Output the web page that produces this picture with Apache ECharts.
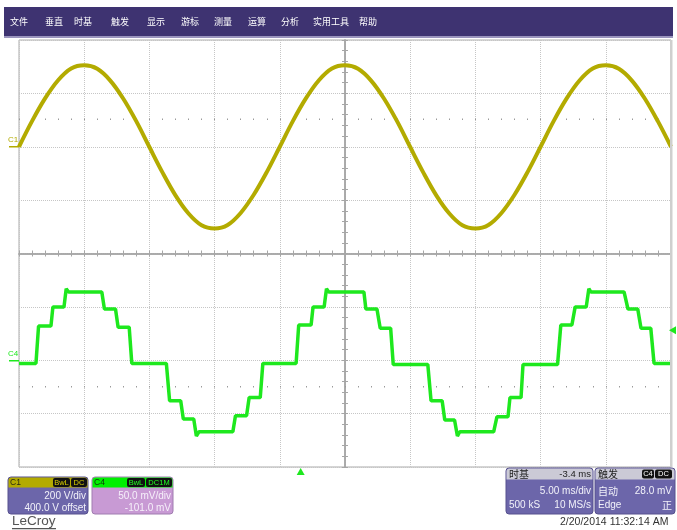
<!DOCTYPE html>
<html><head><meta charset="utf-8">
<script src="https://cdn.jsdelivr.net/npm/echarts/dist/echarts.min.js"></script>
<style>html,body{margin:0;padding:0;background:#fff;}#c{width:677px;height:530px;}</style>
</head><body><div id="c"></div>
<script>
// ---------- data ----------
const menuItems = ['文件','垂直','时基','触发','显示','游标','测量','运算','分析','实用工具','帮助'];
// C1 trace (volts) sampled every 1 ms
const c1Time = [0,1,2,3,4,5,6,7,8,9,10,11,12,13,14,15,16,17,18,19,20,21,22,23,24,25,26,27,28,29,30,31,32,33,34,35,36,37,38,39,40,41,42,43,44,45,46,47,48,49,50];
const c1Volt = [0,96,181,249,293,305,292,248,180,95,-1,-96,-182,-250,-294,-306,-293,-248,-180,-95,0,96,181,249,293,305,292,248,180,95,-1,-96,-182,-250,-294,-306,-293,-248,-180,-95,0,96,181,249,293,305,292,248,180,95,0];
// C4 trace (mV), step corners
const c4Time = [0,1.3,1.5,2.45,2.6,3.45,3.62,3.8,6.35,6.55,7.4,7.6,8.45,8.65,11.3,11.55,12.4,12.6,13.4,13.6,13.8,16.4,16.6,17.45,17.65,18.5,18.7,
  21.25,21.45,22.4,22.55,23.4,23.58,23.75,26.45,26.6,27.45,27.7,28.5,28.7,31.35,31.6,32.45,32.65,33.4,33.62,33.8,36.4,36.65,37.5,37.65,38.5,38.65,41.3,41.55,42.4,42.65,43.5,43.7,43.85,46.4,46.7,47.45,47.7,48.45,48.7,50];
const c4MilliVolt = [-3,-3,32,32,50,50,67,64,64,48,48,31,31,-3,-3,-38,-38,-55,-55,-71,-67,-67,-52,-52,-35,-35,-3,
  -3,33,33,50,50,67,64,64,48,48,30,30,-4,-4,-38,-38,-56,-56,-71,-67,-67,-53,-53,-35,-35,-4,-4,33,33,50,50,67,64,64,48,48,30,30,-3,-3];
const timeRange = [0, 50];      // ms, 5 ms/div
const c1Range = [-1200, 400];   // V, 200 V/div
const c4Range = [-100, 300];    // mV, 50 mV/div
const triggerLevel = 28;        // mV
const triggerTime = 21.6;       // ms
const c1Info = ['200 V/div', '400.0 V offset'];
const c4Info = ['50.0 mV/div', '-101.0 mV'];
const tbInfo = {head:'-3.4 ms', perDiv:'5.00 ms/div', samples:'500 kS', rate:'10 MS/s'};
const trigInfo = {mode:'自动', level:'28.0 mV', type:'Edge', slope:'正'};
const dateText = '2/20/2014 11:32:14 AM';

// ---------- layout / style ----------
const menuX = [10,45,74,111,147,181,214,248,281,313,359];
const C1COL = '#b3ab00', C4COL = '#1ee81e';
const FONT = 'Liberation Sans, Arial, sans-serif';
const CJK = 'Noto Sans CJK SC, sans-serif';

const chart = echarts.init(document.getElementById('c'));

function hiddenAxis(extra){
  return Object.assign({type:'value', axisLine:{show:false,onZero:false}, axisTick:{show:false}, axisLabel:{show:false}, splitLine:{show:false}}, extra);
}
function centerX(inside){
  return hiddenAxis({min:timeRange[0], max:timeRange[1], interval:5, position:'bottom', offset:-213.5,
    axisLine:{show:true,onZero:false,lineStyle:{color:'#a6a6a6',width:1.5}},
    axisTick:{show:true,inside:inside,length:3,lineStyle:{color:'#a6a6a6'}},
    minorTick:{show:true,splitNumber:5,length:3,lineStyle:{color:'#a6a6a6'}}});
}
function dotsX(off){
  return hiddenAxis({min:timeRange[0], max:timeRange[1], interval:5, position:'bottom', offset:off,
    axisTick:{show:true,inside:true,length:1.5,lineStyle:{color:'#9a9a9a'}},
    minorTick:{show:true,splitNumber:5,length:1.5,lineStyle:{color:'#9a9a9a'}}});
}
function centerY(inside){
  return hiddenAxis({min:-4, max:4, interval:1, position:'left', offset:-326,
    axisLine:{show:true,onZero:false,lineStyle:{color:'#a6a6a6',width:1.5}},
    axisTick:{show:true,inside:inside,length:3,lineStyle:{color:'#a6a6a6'}},
    minorTick:{show:true,splitNumber:5,length:3,lineStyle:{color:'#a6a6a6'}}});
}

const option = {
  animation:false,
  backgroundColor:'#ffffff',
  grid:{left:19, top:40, width:652, height:427, show:true, borderColor:'#aaaaaa', borderWidth:1, backgroundColor:'#ffffff'},
  xAxis:[
    hiddenAxis({min:timeRange[0], max:timeRange[1], interval:5,
      splitLine:{show:true, lineStyle:{color:'#c6c6c6', type:[1,1], width:1}}}),
    centerX(true), centerX(false), dotsX(-347), dotsX(-79.5)
  ],
  yAxis:[
    hiddenAxis({min:c1Range[0], max:c1Range[1], interval:200,
      splitLine:{show:true, lineStyle:{color:'#c6c6c6', type:[1,1], width:1}}}),
    hiddenAxis({min:c4Range[0], max:c4Range[1], interval:50}),
    centerY(true), centerY(false)
  ],
  series:[
    {name:'C1', type:'line', xAxisIndex:0, yAxisIndex:0, showSymbol:false, smooth:0.35,
      data:c1Time.map((t,i)=>[t,c1Volt[i]]), lineStyle:{color:C1COL, width:4}, z:5},
    {name:'C4', type:'line', xAxisIndex:0, yAxisIndex:1, showSymbol:false,
      data:c4Time.map((t,i)=>[t,c4MilliVolt[i]]), lineStyle:{color:C4COL, width:3.5}, z:5}
  ]
};
chart.setOption(option);

const c1Zero = chart.convertToPixel({yAxisIndex:0}, 0);
const c4Zero = chart.convertToPixel({yAxisIndex:1}, 0);
const trigY = chart.convertToPixel({yAxisIndex:1}, triggerLevel);
const trigX = chart.convertToPixel({xAxisIndex:0}, triggerTime);

const g = [];
function rect(x,y,w,h,fill){ g.push({type:'rect', z:100, shape:{x,y,width:w,height:h}, style:{fill}}); }
function text(x,y,s,fill,size,align,font){ g.push({type:'text', x, y, z:110, style:{text:s, fill, font:(size)+'px '+(font||FONT), textAlign:align||'left', textVerticalAlign:'middle'}}); }

// menu bar
rect(4,7,669,29,'#3e3371');
rect(4,36,669,2,'#9a94bd');
menuItems.forEach((m,i)=>text(menuX[i],22,m,'#ffffff',9,'left',CJK));
// right border of the screen
rect(670,40,2.5,427,'#cfcfcf');

// channel markers
text(8,c1Zero-7,'C1',C1COL,8);
g.push({type:'line', z:110, shape:{x1:9,y1:c1Zero,x2:19,y2:c1Zero}, style:{stroke:C1COL,lineWidth:1.5}});
text(8,c4Zero-6,'C4',C4COL,8);
g.push({type:'line', z:110, shape:{x1:9,y1:c4Zero+0.5,x2:19,y2:c4Zero+0.5}, style:{stroke:C4COL,lineWidth:1.5}});
// trigger markers
g.push({type:'polygon', z:110, shape:{points:[[669,trigY],[676,trigY-4],[676,trigY+4]]}, style:{fill:C4COL}});
g.push({type:'polygon', z:110, shape:{points:[[trigX,468],[trigX-4,475],[trigX+4,475]]}, style:{fill:C4COL}});

// descriptor boxes
function badge(x,y,w,s,col){
  g.push({type:'rect', z:105, shape:{x,y,width:w,height:9,r:2}, style:{fill:'#111'}});
  text(x+w/2,y+4.7,s,col,7.5,'center');
}
// C1
g.push({type:'rect', z:100, shape:{x:8,y:477,width:80,height:37,r:3}, style:{fill:'#6c66aa',stroke:'#56508e',lineWidth:1}});
g.push({type:'rect', z:101, shape:{x:8.5,y:477.5,width:79,height:10,r:[3,3,0,0]}, style:{fill:C1COL}});
text(10,482.5,'C1','#2a2a10',8.5);
badge(53,478,17,'BwL','#d8d000'); badge(71,478,16,'DC','#d8d000');
text(86,496,c1Info[0],'#f2f2fa',10,'right');
text(86,508,c1Info[1],'#f2f2fa',10,'right');
// C4
g.push({type:'rect', z:100, shape:{x:92,y:477,width:81,height:37,r:3}, style:{fill:'#c89ad4',stroke:'#a07cb0',lineWidth:1}});
g.push({type:'rect', z:101, shape:{x:92.5,y:477.5,width:80,height:10,r:[3,3,0,0]}, style:{fill:'#00f000'}});
text(94,482.5,'C4','#103010',8.5);
badge(127,478,18,'BwL','#22ff22'); badge(146,478,26,'DC1M','#22ff22');
text(171,496,c4Info[0],'#f6f0fa',10,'right');
text(171,508,c4Info[1],'#f6f0fa',10,'right');
// LeCroy
text(12,521,'LeCroy','#555555',13.5);
rect(12,528,44,1.2,'#555555');
// timebase
g.push({type:'rect', z:100, shape:{x:506,y:468,width:87,height:46,r:3}, style:{fill:'#6c66aa',stroke:'#56508e',lineWidth:1}});
g.push({type:'rect', z:101, shape:{x:506.5,y:468.5,width:86,height:11,r:[3,3,0,0]}, style:{fill:'#cbcad6'}});
text(509,474,'时基','#222',10,'left',CJK);
text(591,474,tbInfo.head,'#222',9.5,'right');
text(591,491,tbInfo.perDiv,'#f2f2fa',10,'right');
text(509,505,tbInfo.samples,'#f2f2fa',10,'left');
text(591,505,tbInfo.rate,'#f2f2fa',10,'right');
// trigger
g.push({type:'rect', z:100, shape:{x:595,y:468,width:80,height:46,r:3}, style:{fill:'#6c66aa',stroke:'#56508e',lineWidth:1}});
g.push({type:'rect', z:101, shape:{x:595.5,y:468.5,width:79,height:11,r:[3,3,0,0]}, style:{fill:'#cbcad6'}});
text(598,474,'触发','#222',10,'left',CJK);
badge(642,469.5,12,'C4','#ffffff'); badge(655,469.5,17,'DC','#ffffff');
text(598,491,trigInfo.mode,'#f2f2fa',10,'left',CJK);
text(672,491,trigInfo.level,'#f2f2fa',10,'right');
text(598,505,trigInfo.type,'#f2f2fa',10,'left');
text(672,505,trigInfo.slope,'#f2f2fa',10,'right',CJK);
// date
text(560,522,dateText,'#333333',10.5);

chart.setOption({graphic:g});
</script></body></html>
